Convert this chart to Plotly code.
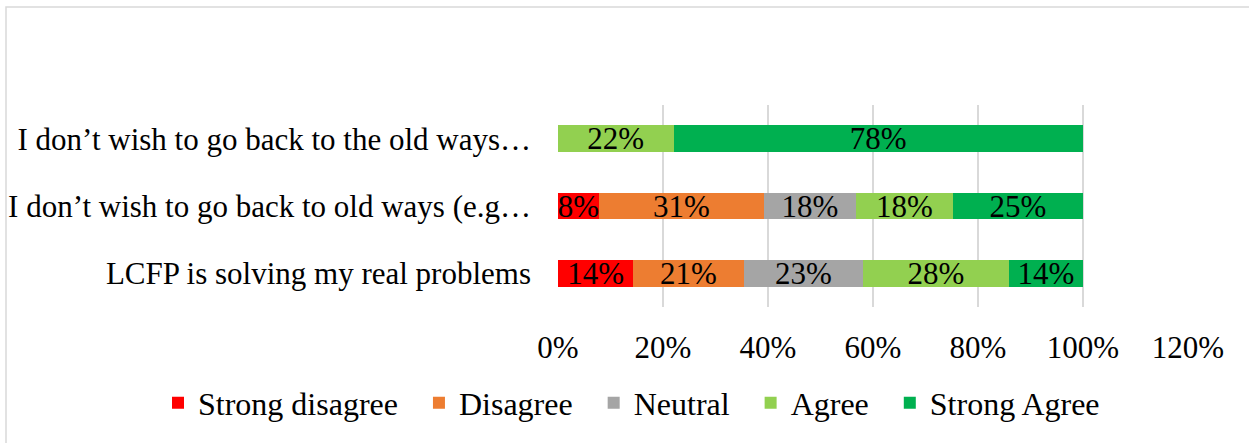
import plotly.graph_objects as go

categories = [
    "LCFP is solving my real problems",
    "I don\u2019t wish to go back to old ways (e.g\u2026",
    "I don\u2019t wish to go back to the old ways\u2026",
]
series_names = ["Strong disagree", "Disagree", "Neutral", "Agree", "Strong Agree"]
strong_disagree = [0.143, 0.078, 0.0]
disagree = [0.211, 0.314, 0.0]
neutral = [0.227, 0.176, 0.0]
agree = [0.278, 0.184, 0.22]
strong_agree = [0.141, 0.248, 0.78]
palette = ["#FF0000", "#ED7D31", "#A5A5A5", "#92D050", "#00B050"]

FONT = "Liberation Serif, Times New Roman, serif"
PAD = "\u00a0" * 2  # a bit of extra room after each legend entry

fig = go.Figure()
for name, vals, color in zip(
    series_names, [strong_disagree, disagree, neutral, agree, strong_agree], palette
):
    texts = [f"{v:.0%}" if v > 0 else "" for v in vals]
    fig.add_trace(
        go.Bar(
            y=categories,
            x=vals,
            name=name + (PAD if name != series_names[-1] else ""),
            orientation="h",
            marker=dict(color=color, line=dict(width=0)),
            text=texts,
            textposition="inside",
            insidetextanchor="middle",
            constraintext="none",
            textfont=dict(family=FONT, size=31, color="#000000"),
        )
    )

# plot area in pixels: x 558..1188, y 105..307
fig.update_layout(
    width=1249,
    height=443,
    barmode="stack",
    bargap=0.6,
    margin=dict(l=558, r=61, t=105, b=136, autoexpand=False),
    plot_bgcolor="white",
    paper_bgcolor="white",
    font=dict(family=FONT, size=31, color="#000000"),
    xaxis=dict(
        range=[0, 1.2],
        dtick=0.2,
        tick0=0,
        tickformat=".0%",
        showgrid=True,
        gridcolor="#D9D9D9",
        gridwidth=1.5,
        zeroline=False,
        showline=False,
        ticks="",
        automargin=False,
        ticklabelstandoff=19,
        tickfont=dict(family=FONT, size=31),
    ),
    yaxis=dict(
        showgrid=False,
        zeroline=False,
        showline=False,
        ticks="",
        automargin=False,
        ticklabelstandoff=26,
        tickfont=dict(family=FONT, size=31),
    ),
    legend=dict(
        orientation="h",
        x=(158 - 558) / 630,
        xanchor="left",
        y=(307 - 403) / 202,
        yanchor="middle",
        bgcolor="rgba(0,0,0,0)",
        font=dict(family=FONT, size=32),
        traceorder="normal",
    ),
    shapes=[
        dict(
            type="rect",
            xref="paper",
            yref="paper",
            x0=(6 - 558) / 630,
            x1=(1256 - 558) / 630,
            y0=(307 - 450) / 202,
            y1=(307 - 7) / 202,
            line=dict(color="#D9D9D9", width=1.5),
            fillcolor="rgba(0,0,0,0)",
            layer="below",
        )
    ],
)

fig.write_html(
    "out.html",
    config={"displayModeBar": False},
    post_script="document.body.style.margin='0';document.body.style.overflow='hidden';",
)
